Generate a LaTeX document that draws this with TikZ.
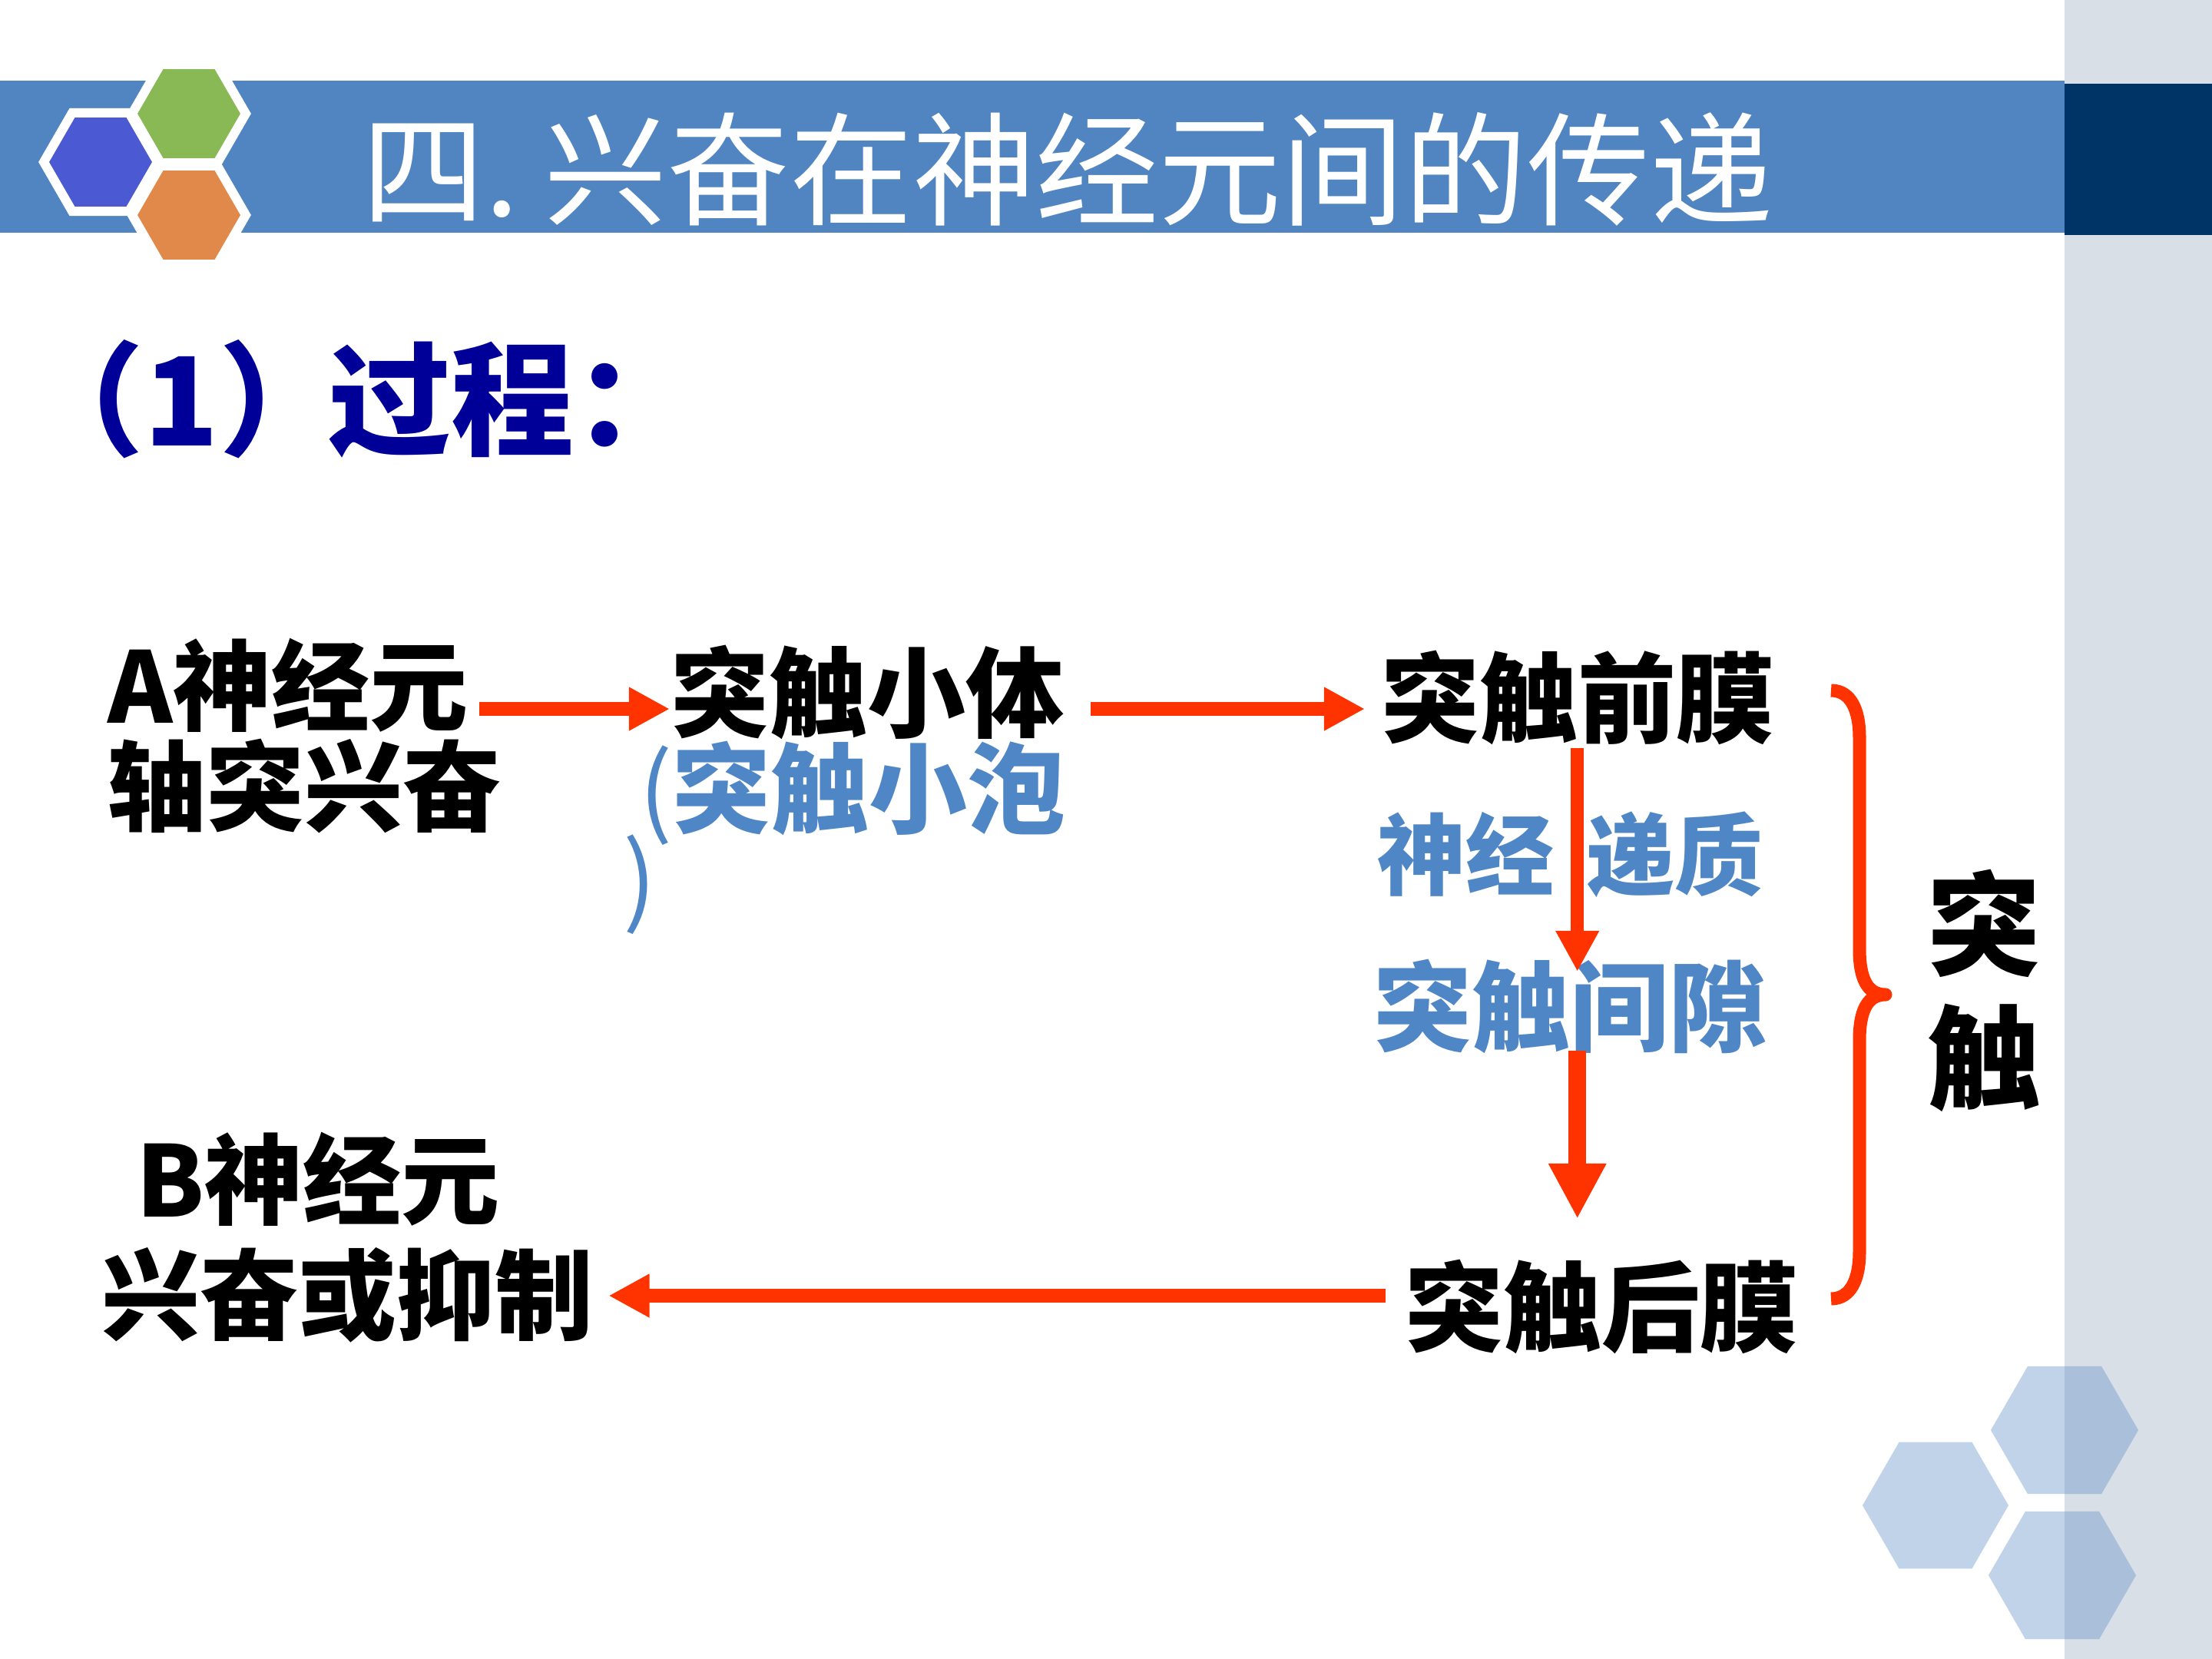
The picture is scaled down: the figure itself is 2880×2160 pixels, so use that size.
\documentclass[tikz,border=0pt]{standalone}
\usepackage{fontspec}
\setmainfont{Noto Sans CJK SC}
\usetikzlibrary{arrows.meta,calc}
\definecolor{barblue}{HTML}{5085C1}
\definecolor{navy}{HTML}{003466}
\definecolor{panel}{HTML}{D9DFE7}
\definecolor{hexblue}{HTML}{4B5AD3}
\definecolor{hexgreen}{HTML}{88B955}
\definecolor{hexorange}{HTML}{E0894A}
\definecolor{hexlight}{HTML}{C0D3E8}
\definecolor{hexdark}{HTML}{A9BFDA}
\definecolor{arrred}{HTML}{FF3300}
\definecolor{txtblue}{HTML}{4F87C6}
\definecolor{headblue}{HTML}{000099}
\tikzset{
  blk/.style={inner sep=0pt, text=black, font=\bfseries\fontsize{36.4pt}{37pt}\selectfont},
  blu/.style={inner sep=0pt, text=txtblue, font=\bfseries\fontsize{36.4pt}{32pt}\selectfont},
  blus/.style={inner sep=0pt, text=txtblue, font=\bfseries\fontsize{32.7pt}{34pt}\selectfont},
  arr/.style={draw=arrred, line width=4.9pt, -{Triangle[length=15.1pt,width=15.1pt]}},
  arrbig/.style={draw=arrred, line width=6.4pt, -{Triangle[length=20.5pt,width=20pt]}},
  logohex/.style={draw=white, line width=3.4pt, line join=miter},
}
\newcommand{\hexagon}[1]{(0:#1) -- (60:#1) -- (120:#1) -- (180:#1) -- (240:#1) -- (300:#1) -- cycle}
\begin{document}
\begin{tikzpicture}[x=0.01cm,y=-0.01cm]
\useasboundingbox (0,0) rectangle (2880,2160);
\fill[white] (0,0) rectangle (2880,2160);
% right panel and bars
\fill[panel] (2688,0) rectangle (2880,2160);
\fill[barblue] (0,105) rectangle (2688,303);
\fill[navy] (2688,109) rectangle (2880,306);
% logo hexagons
\filldraw[logohex, fill=hexblue, shift={(131,211)}] \hexagon{74};
\filldraw[logohex, fill=hexgreen, shift={(246,148)}] \hexagon{74};
\filldraw[logohex, fill=hexorange, shift={(246,280)}] \hexagon{74};
% bottom-right hexagons
\fill[hexlight, shift={(2520,1960)}] \hexagon{95};
\fill[hexlight, shift={(2688,1862)}] \hexagon{96};
\fill[hexlight, shift={(2685,2051)}] \hexagon{96};
\begin{scope}
  \clip (2688,0) rectangle (2880,2160);
  \fill[hexdark, shift={(2688,1862)}] \hexagon{96};
  \fill[hexdark, shift={(2685,2051)}] \hexagon{96};
\end{scope}
% title and heading
\node[inner sep=0pt, anchor=west, text=white, font=\fontsize{45.5pt}{50pt}\selectfont] (title) at (471,220) {四.\hspace{9.3pt}兴奋在神经元间的传递};
\node[inner sep=0pt, anchor=west, text=headblue, font=\bfseries\fontsize{45.5pt}{50pt}\selectfont] (head) at (27,520) {（1）\kern-5pt 过程：};
% diagram nodes
\node[blk, align=left, anchor=west] (nA) at (140,958) {A神经元\\轴突兴奋};
\node[blk, anchor=west] (nB) at (873,901) {突触小体};
\node[blu, align=left, anchor=west] (nV) at (832,1091) {{\mdseries(}突触小泡\\[-5pt]\hspace*{-6pt}{\mdseries)}};
\node[blk, anchor=west] (nPre) at (1798,908) {突触前膜};
\node[blus, anchor=west] (nT) at (1793,1113) {神经\hspace{12pt}递质};
\node[blu, anchor=west] (nGap) at (1788,1310) {突触间隙};
\node[blk, anchor=west] (nPost) at (1829,1701) {突触后膜};
\node[inner sep=0pt, text=black, font=\bfseries\fontsize{36.4pt}{42.7pt}\selectfont, align=left, anchor=west] (nBn) at (132,1611) {\hspace*{12.8pt}B神经元\\兴奋或抑制};
\node[inner sep=0pt, text=black, font=\bfseries\fontsize{42pt}{49.5pt}\selectfont, align=center] (nSyn) at (2583,1290) {突\\触};
% arrows
\draw[arr] ([shift={(-29,-35)}]nA.east) -- ([shift={(-1,22)}]nB.west);
\draw[arr] ([shift={(34,22)}]nB.east) -- ([shift={(-21,15)}]nPre.west);
\draw[arr] ([shift={(-1,4)}]nPre.south) -- ([shift={(-1,17)}]nPre.south |- nGap.north);
\draw[arrbig] ([shift={(-1,-4)}]nPre.south |- nGap.south) -- ([shift={(-1,-52)}]nPre.south |- nPost.north);
\draw[arr] ([shift={(-25,-14)}]nPost.west) -- ([shift={(19,76)}]nBn.east);
% brace
\draw[arrred, line width=4.84pt, line join=round]
  (2384,899) .. controls (2410,899) and (2421,925) .. (2421,960)
  -- (2421,1235) .. controls (2421,1272) and (2430,1295) .. (2455,1295)
  .. controls (2430,1295) and (2421,1318) .. (2421,1355)
  -- (2421,1630) .. controls (2421,1665) and (2410,1691) .. (2384,1691);
\end{tikzpicture}
\end{document}
